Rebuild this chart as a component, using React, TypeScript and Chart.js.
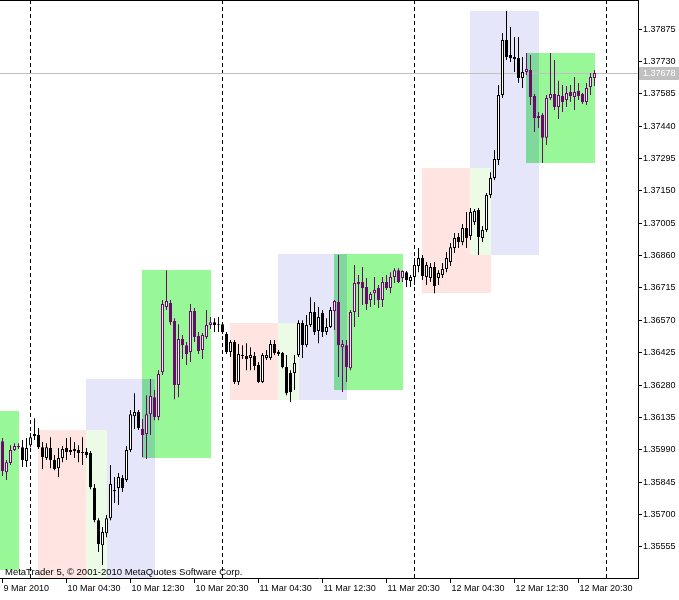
import React, { useEffect, useRef } from 'react';
import { Chart, registerables } from 'chart.js';

Chart.register(...registerables);

// ---- OHLC data, EURUSD M30, bar 0 .. bar 149 (bar 1 = 9 Mar 2010 20:30) ----
const opens = [
  1.36011, 1.36029, 1.35890, 1.35931, 1.35989, 1.36002, 1.36002, 1.35940, 1.36011, 1.36052,
  1.36056, 1.36002, 1.35953, 1.35998, 1.35944, 1.35908, 1.35953, 1.35998, 1.35980, 1.35994,
  1.35989, 1.35976, 1.35980, 1.35976, 1.35819, 1.35675, 1.35563, 1.35617, 1.35684, 1.35810,
  1.35819, 1.35864, 1.35855, 1.35989, 1.36141, 1.36159, 1.36083, 1.36061, 1.36150, 1.36226,
  1.36137, 1.36338, 1.36630, 1.36648, 1.36567, 1.36280, 1.36486, 1.36459, 1.36428, 1.36612,
  1.36500, 1.36437, 1.36495, 1.36549, 1.36562, 1.36549, 1.36553, 1.36509, 1.36428, 1.36473,
  1.36294, 1.36415, 1.36410, 1.36401, 1.36410, 1.36370, 1.36294, 1.36401, 1.36401, 1.36464,
  1.36428, 1.36424, 1.36361, 1.36334, 1.36334, 1.36415, 1.36558, 1.36459, 1.36549, 1.36607,
  1.36522, 1.36603, 1.36518, 1.36540, 1.36612, 1.36652, 1.36450, 1.36459, 1.36356, 1.36607,
  1.36733, 1.36742, 1.36719, 1.36661, 1.36692, 1.36715, 1.36661, 1.36742, 1.36715, 1.36764,
  1.36795, 1.36760, 1.36786, 1.36746, 1.36764, 1.36813, 1.36849, 1.36764, 1.36760, 1.36809,
  1.36760, 1.36773, 1.36800, 1.36831, 1.36894, 1.36943, 1.36921, 1.36984, 1.36948, 1.37010,
  1.37064, 1.36939, 1.36975, 1.37131, 1.37208, 1.37288, 1.37579, 1.37826, 1.37759, 1.37750,
  1.37745, 1.37656, 1.37682, 1.37691, 1.37575, 1.37485, 1.37490, 1.37388, 1.37566, 1.37584,
  1.37526, 1.37575, 1.37557, 1.37593, 1.37570, 1.37597, 1.37584, 1.37548, 1.37615, 1.37656,
];
const highs = [
  1.36034, 1.36043, 1.35944, 1.36011, 1.36020, 1.36020, 1.36034, 1.36043, 1.36065, 1.36132,
  1.36088, 1.36025, 1.36020, 1.36047, 1.35967, 1.35998, 1.36007, 1.36043, 1.36047, 1.36025,
  1.36011, 1.36047, 1.35998, 1.35985, 1.35837, 1.35684, 1.35644, 1.35698, 1.35922, 1.35868,
  1.35886, 1.35877, 1.36007, 1.36168, 1.36244, 1.36168, 1.36128, 1.36235, 1.36307, 1.36258,
  1.36347, 1.36661, 1.36795, 1.36661, 1.36580, 1.36553, 1.36504, 1.36473, 1.36643, 1.36625,
  1.36518, 1.36513, 1.36616, 1.36585, 1.36580, 1.36585, 1.36562, 1.36518, 1.36482, 1.36482,
  1.36464, 1.36459, 1.36468, 1.36450, 1.36428, 1.36383, 1.36424, 1.36437, 1.36482, 1.36482,
  1.36437, 1.36428, 1.36415, 1.36347, 1.36415, 1.36571, 1.36571, 1.36594, 1.36674, 1.36652,
  1.36630, 1.36616, 1.36580, 1.36630, 1.36661, 1.36863, 1.36482, 1.36482, 1.36616, 1.36818,
  1.36773, 1.36809, 1.36760, 1.36697, 1.36764, 1.36728, 1.36764, 1.36773, 1.36786, 1.36804,
  1.36804, 1.36795, 1.36791, 1.36773, 1.36849, 1.36894, 1.36863, 1.36831, 1.36827, 1.36831,
  1.36795, 1.36827, 1.36876, 1.36916, 1.36961, 1.36961, 1.37002, 1.37055, 1.37073, 1.37069,
  1.37073, 1.36993, 1.37140, 1.37234, 1.37333, 1.37624, 1.37857, 1.37956, 1.37884, 1.37839,
  1.37839, 1.37750, 1.37768, 1.37759, 1.37584, 1.37503, 1.37499, 1.37579, 1.37768, 1.37736,
  1.37643, 1.37624, 1.37620, 1.37624, 1.37660, 1.37633, 1.37588, 1.37633, 1.37678, 1.37691,
];
const lows = [
  1.35953, 1.35873, 1.35855, 1.35922, 1.35985, 1.35994, 1.35913, 1.35913, 1.36002, 1.36034,
  1.35994, 1.35904, 1.35944, 1.35908, 1.35899, 1.35868, 1.35935, 1.35944, 1.35967, 1.35953,
  1.35935, 1.35922, 1.35953, 1.35814, 1.35666, 1.35532, 1.35474, 1.35599, 1.35675, 1.35752,
  1.35743, 1.35801, 1.35846, 1.35980, 1.36083, 1.36079, 1.35958, 1.35949, 1.36056, 1.36123,
  1.36123, 1.36325, 1.36616, 1.36549, 1.36217, 1.36226, 1.36397, 1.36370, 1.36383, 1.36473,
  1.36419, 1.36397, 1.36486, 1.36531, 1.36518, 1.36518, 1.36509, 1.36419, 1.36406, 1.36285,
  1.36280, 1.36397, 1.36347, 1.36347, 1.36347, 1.36289, 1.36289, 1.36392, 1.36392, 1.36415,
  1.36410, 1.36356, 1.36235, 1.36204, 1.36258, 1.36406, 1.36401, 1.36450, 1.36540, 1.36504,
  1.36468, 1.36495, 1.36504, 1.36536, 1.36527, 1.36316, 1.36249, 1.36294, 1.36347, 1.36540,
  1.36585, 1.36639, 1.36616, 1.36630, 1.36639, 1.36625, 1.36630, 1.36706, 1.36692, 1.36737,
  1.36737, 1.36742, 1.36719, 1.36719, 1.36728, 1.36786, 1.36751, 1.36728, 1.36742, 1.36692,
  1.36728, 1.36760, 1.36786, 1.36813, 1.36872, 1.36894, 1.36907, 1.36894, 1.36930, 1.36997,
  1.36863, 1.36921, 1.36966, 1.37118, 1.37199, 1.37266, 1.37566, 1.37736, 1.37727, 1.37682,
  1.37633, 1.37611, 1.37669, 1.37535, 1.37414, 1.37432, 1.37275, 1.37355, 1.37557, 1.37512,
  1.37472, 1.37503, 1.37526, 1.37548, 1.37512, 1.37557, 1.37539, 1.37535, 1.37579, 1.37620,
];
const closes = [
  1.35967, 1.35895, 1.35935, 1.35989, 1.36007, 1.36007, 1.35944, 1.35998, 1.36047, 1.36061,
  1.36002, 1.35958, 1.36002, 1.35944, 1.35904, 1.35953, 1.35994, 1.35980, 1.35989, 1.35985,
  1.35976, 1.35980, 1.35967, 1.35823, 1.35675, 1.35568, 1.35622, 1.35684, 1.35837, 1.35805,
  1.35868, 1.35819, 1.35989, 1.36150, 1.36159, 1.36088, 1.36056, 1.36150, 1.36231, 1.36137,
  1.36330, 1.36643, 1.36657, 1.36562, 1.36280, 1.36486, 1.36459, 1.36419, 1.36612, 1.36495,
  1.36433, 1.36504, 1.36549, 1.36562, 1.36549, 1.36553, 1.36518, 1.36428, 1.36473, 1.36294,
  1.36419, 1.36410, 1.36397, 1.36415, 1.36365, 1.36294, 1.36415, 1.36415, 1.36464, 1.36424,
  1.36419, 1.36361, 1.36244, 1.36249, 1.36379, 1.36558, 1.36459, 1.36549, 1.36607, 1.36518,
  1.36585, 1.36518, 1.36540, 1.36616, 1.36657, 1.36459, 1.36464, 1.36361, 1.36607, 1.36737,
  1.36742, 1.36715, 1.36643, 1.36688, 1.36706, 1.36661, 1.36742, 1.36715, 1.36764, 1.36795,
  1.36742, 1.36791, 1.36751, 1.36764, 1.36818, 1.36849, 1.36769, 1.36818, 1.36809, 1.36724,
  1.36782, 1.36800, 1.36849, 1.36898, 1.36939, 1.36921, 1.36984, 1.36939, 1.37055, 1.37060,
  1.36943, 1.36975, 1.37131, 1.37208, 1.37293, 1.37579, 1.37826, 1.37750, 1.37745, 1.37741,
  1.37656, 1.37682, 1.37696, 1.37570, 1.37476, 1.37476, 1.37388, 1.37566, 1.37584, 1.37526,
  1.37579, 1.37548, 1.37588, 1.37575, 1.37593, 1.37575, 1.37548, 1.37611, 1.37660, 1.37678,
];

// ---- axes ----
const timeLabels = [
  '9 Mar 2010', '10 Mar 04:30', '10 Mar 12:30', '10 Mar 20:30', '11 Mar 04:30',
  '11 Mar 12:30', '11 Mar 20:30', '12 Mar 04:30', '12 Mar 12:30', '12 Mar 20:30',
];
const timeTickBars = [1, 17, 33, 49, 65, 81, 97, 113, 129, 145];
const priceTicks = [
  1.35555, 1.35700, 1.35845, 1.35990, 1.36135, 1.36280, 1.36425, 1.36570, 1.36715,
  1.36860, 1.37005, 1.37150, 1.37295, 1.37440, 1.37585, 1.37730, 1.37875,
];
const daySeparatorBars = [8, 56, 104, 152];
const currentPrice = 1.37678;
const copyrightText = 'MetaTrader 5, \u00A9 2001-2010 MetaQuotes Software Corp.';

// ---- session boxes ----
const boxStarts = [-12, 10, 22, 36, 58, 70, 84, 106, 118, 132];
const boxEnds = [5, 27, 39, 53, 75, 87, 101, 123, 135, 149];
const boxHighs = [1.36164, 1.36079, 1.36307, 1.36795, 1.36558, 1.36867, 1.36867, 1.37252, 1.37956, 1.37768];
const boxLows = [1.35451, 1.35300, 1.35300, 1.35953, 1.36213, 1.36213, 1.36258, 1.36692, 1.36863, 1.37275];
const boxKinds = ['us', 'asia', 'eu', 'us', 'asia', 'eu', 'us', 'asia', 'eu', 'us'];

const BOX_COLORS: Record<string, string> = {
  asia: '#ffe4e1',
  eu: '#e6e6fa',
  us: '#98f898',
};
const OVERLAP_ASIA_EU = '#ebfbe6';
const OVERLAP_EU_US = '#80d89c';
const PURPLE = '#6a0a6a';
const PURPLE_BULL_FILL = '#f6e8f6';

function inUsBox(k: number) {
  for (let i = 0; i < boxKinds.length; i++) {
    if (boxKinds[i] === 'us' && k >= boxStarts[i] && k <= boxEnds[i]) return true;
  }
  return false;
}

const mt5Plugin = {
  id: 'mt5Overlay',
  beforeDatasetsDraw(chart: any) {
    const { ctx, chartArea: a, scales } = chart;
    const xs = scales.x;
    const ys = scales.y;
    ctx.save();
    ctx.beginPath();
    ctx.rect(a.left, a.top, a.right - a.left, a.bottom - a.top);
    ctx.clip();
    const rectOf = (i: number) => {
      const l = Math.floor(xs.getPixelForValue(boxStarts[i]));
      const r = Math.floor(xs.getPixelForValue(boxEnds[i])) + 1;
      const t = Math.round(ys.getPixelForValue(boxHighs[i]));
      const b = Math.round(ys.getPixelForValue(boxLows[i]));
      return { l, r, t, b };
    };
    for (let i = 0; i < boxKinds.length; i++) {
      const rc = rectOf(i);
      ctx.fillStyle = BOX_COLORS[boxKinds[i]];
      ctx.fillRect(rc.l, rc.t, rc.r - rc.l, rc.b - rc.t);
    }
    for (let i = 0; i < boxKinds.length; i++) {
      for (let j = i + 1; j < boxKinds.length; j++) {
        const kinds = [boxKinds[i], boxKinds[j]].sort().join('-');
        let col = '';
        if (kinds === 'asia-eu') col = OVERLAP_ASIA_EU;
        else if (kinds === 'eu-us') col = OVERLAP_EU_US;
        if (!col) continue;
        const p = rectOf(i);
        const q = rectOf(j);
        const l = Math.max(p.l, q.l);
        const r = Math.min(p.r, q.r);
        const t = Math.max(p.t, q.t);
        const b = Math.min(p.b, q.b);
        if (r > l && b > t) {
          ctx.fillStyle = col;
          ctx.fillRect(l, t, r - l, b - t);
        }
      }
    }
    // day separators
    ctx.strokeStyle = '#000';
    ctx.lineWidth = 1;
    ctx.setLineDash([4, 3]);
    for (const s of daySeparatorBars) {
      const px = Math.floor(xs.getPixelForValue(s)) + 0.5;
      ctx.beginPath();
      ctx.moveTo(px, a.top);
      ctx.lineTo(px, a.bottom);
      ctx.stroke();
    }
    ctx.setLineDash([]);
    // current price line
    const py = Math.round(ys.getPixelForValue(currentPrice)) + 0.5;
    ctx.strokeStyle = '#c0c0c0';
    ctx.beginPath();
    ctx.moveTo(a.left, py);
    ctx.lineTo(a.right, py);
    ctx.stroke();
    ctx.restore();
  },
  afterDraw(chart: any) {
    const { ctx, chartArea: a, scales } = chart;
    const ys = scales.y;
    ctx.save();
    // top frame line
    ctx.fillStyle = '#000';
    ctx.fillRect(a.left, a.top, a.right - a.left + 1, 1);
    // copyright
    ctx.font = '9.5px "Liberation Sans"';
    ctx.fillStyle = '#000';
    ctx.textBaseline = 'alphabetic';
    ctx.textAlign = 'left';
    ctx.fillText(copyrightText, 5, 575);
    // current price label
    ctx.font = '9px "Liberation Sans"';
    const py = Math.round(ys.getPixelForValue(currentPrice));
    ctx.fillStyle = '#c0c0c0';
    ctx.fillRect(a.right + 1, py - 6, chart.width - a.right - 1, 13);
    ctx.fillStyle = '#ffffff';
    ctx.textBaseline = 'middle';
    ctx.fillText(currentPrice.toFixed(5), a.right + 5, py + 0.5);
    ctx.restore();
  },
};

export default function App() {
  const ref = useRef<HTMLCanvasElement | null>(null);

  useEffect(() => {
    if (!ref.current) return;
    const bodyBg: string[] = [];
    const bodyBorder: string[] = [];
    const wickColor: string[] = [];
    for (let k = 0; k < opens.length; k++) {
      const bull = closes[k] >= opens[k];
      const purple = inUsBox(k);
      const line = purple ? PURPLE : '#000000';
      bodyBorder.push(line);
      wickColor.push(line);
      bodyBg.push(bull ? (purple ? PURPLE_BULL_FILL : '#ffffff') : line);
    }
    const font = { family: 'Liberation Sans', size: 9 };
    const chart = new Chart(ref.current, {
      type: 'bar',
      data: {
        datasets: [
          {
            label: 'body',
            data: opens.map((o, i) => ({ x: i, y: [o, closes[i]] })) as any,
            backgroundColor: bodyBg,
            borderColor: bodyBorder,
            borderWidth: 1,
            borderSkipped: false,
            maxBarThickness: 3,
            barPercentage: 1,
            categoryPercentage: 1,
            grouped: false,
            inflateAmount: 0,
            clip: 0,
            order: 0,
          } as any,
          {
            label: 'wick',
            data: lows.map((l, i) => ({ x: i, y: [l, highs[i]] })) as any,
            backgroundColor: wickColor,
            borderWidth: 0,
            maxBarThickness: 1,
            barPercentage: 1,
            categoryPercentage: 1,
            grouped: false,
            inflateAmount: 0,
            clip: 0,
            order: 1,
          } as any,
        ],
      },
      options: {
        responsive: false,
        animation: false,
        devicePixelRatio: 1,
        events: [],
        layout: { padding: 0 },
        plugins: { legend: { display: false }, tooltip: { enabled: false } },
        scales: {
          x: {
            type: 'linear',
            position: 'bottom',
            min: 0.375,
            max: 159.875,
            offset: false,
            grid: { display: true, drawOnChartArea: false, drawTicks: true, tickLength: 5, color: '#000', offset: false },
            border: { display: true, color: '#000' },
            afterBuildTicks: (scale: any) => {
              scale.ticks = timeTickBars.map((v) => ({ value: v }));
            },
            afterFit: (scale: any) => {
              scale.height = 22;
              scale.paddingLeft = 0;
              scale.paddingRight = 0;
              scale.paddingTop = 0;
              scale.paddingBottom = 0;
            },
            ticks: {
              autoSkip: false,
              maxRotation: 0,
              minRotation: 0,
              align: 'start',
              labelOffset: 1,
              padding: 0,
              color: '#000',
              font,
              callback: (_v: any, i: number) => timeLabels[i],
            },
          },
          y: {
            type: 'linear',
            position: 'right',
            min: 1.35416,
            max: 1.38005,
            beginAtZero: false,
            grid: { display: true, drawOnChartArea: false, drawTicks: true, tickLength: 4, color: '#000' },
            border: { display: true, color: '#000' },
            afterBuildTicks: (scale: any) => {
              scale.ticks = priceTicks.map((v) => ({ value: v }));
            },
            afterFit: (scale: any) => {
              scale.width = 41;
              scale.paddingLeft = 0;
              scale.paddingRight = 0;
              scale.paddingTop = 0;
              scale.paddingBottom = 0;
            },
            ticks: {
              autoSkip: false,
              padding: 1,
              color: '#000',
              font,
              callback: (v: any) => Number(v).toFixed(5),
            },
          },
        },
      } as any,
      plugins: [mt5Plugin],
    });
    return () => chart.destroy();
  }, []);

  return (
    <div style={{ position: 'absolute', left: 0, top: 0, width: 679, height: 600, background: '#ffffff' }}>
      <canvas ref={ref} width={679} height={600} style={{ display: 'block', width: 679, height: 600 }} />
    </div>
  );
}
